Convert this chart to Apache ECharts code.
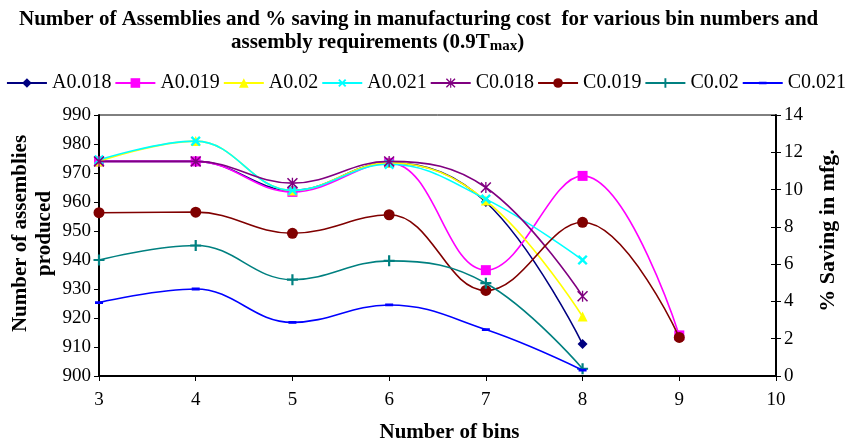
<!DOCTYPE html>
<html>
<head>
<meta charset="utf-8">
<script src="https://cdn.jsdelivr.net/npm/echarts@6/dist/echarts.min.js"></script>
<style>
html,body{margin:0;padding:0;background:#fff;}
#chart{width:852px;height:444px;}
</style>
</head>
<body>
<div id="chart"></div>
<script>
// ---- data ----
const bins = [3, 4, 5, 6, 7, 8, 9];
const seriesNames = ['A0.018', 'A0.019', 'A0.02', 'A0.021', 'C0.018', 'C0.019', 'C0.02', 'C0.021'];
const A0018 = [974, 974, 964, 973.5, 960, 911];
const A0019 = [974, 974, 963.5, 973.5, 936.5, 969, 914];
const A002  = [974, 981, 964, 973.5, 960.5, 920.5];
const A0021 = [974.5, 981, 964, 973, 961, 940];
const C0018 = [974, 974, 966.5, 974, 965, 927.5];
const C0019 = [956.3, 956.5, 949.2, 955.6, 929.5, 953, 913.3];
const C002  = [940, 945, 933.2, 939.7, 932, 902.5];
const C0021 = [925.3, 930, 918.5, 924.5, 916, 902];
const leftTicks = [900, 990, 10];
const rightTicks = [0, 14, 2];
const xTicks = [3, 10, 1];

const FONT = '"Liberation Serif", "Times New Roman", serif';
const X_SYM = 'path://M4,0H6V4H10V6H6V10H4V6H0V4H4Z';
const AST_SYM = 'path://M0,1L1,0L10,9L9,10ZM9,0L10,1L1,10L0,9ZM4.4,0L5.6,0L5.6,10L4.4,10Z';
// short horizontal dash inside a square bounding box (tiny corner dots keep the box square)
const DASH_SYM = 'path://M0,0H0.02V0.02H0ZM1,3.6H9V6.4H1ZM9.98,9.98H10V10H9.98Z';

const styles = [
  {color: '#000080', symbol: 'diamond', size: 10},
  {color: '#FF00FF', symbol: 'rect', size: 10},
  {color: '#FFFF00', symbol: 'triangle', size: 10},
  {color: '#00FFFF', symbol: X_SYM, size: 12, rotate: 45},
  {color: '#800080', symbol: AST_SYM, size: 11},
  {color: '#800000', symbol: 'circle', size: 11},
  {color: '#008080', symbol: X_SYM, size: 11},
  {color: '#0000FF', symbol: DASH_SYM, size: 10}
];
const values = [A0018, A0019, A002, A0021, C0018, C0019, C002, C0021];

const series = values.map((vals, i) => ({
  name: seriesNames[i],
  type: 'line',
  smooth: 0.4,
  data: vals.map((v, j) => [bins[j], v]),
  symbol: styles[i].symbol,
  symbolSize: styles[i].size,
  symbolRotate: styles[i].rotate || 0,
  lineStyle: {color: styles[i].color, width: 1.6},
  itemStyle: {color: styles[i].color, borderColor: styles[i].color, borderWidth: 0, opacity: 1},
  showAllSymbol: true,
  emphasis: {disabled: true},
  z: 2 + i
}));

const chart = echarts.init(document.getElementById('chart'), null, {renderer: 'canvas'});
chart.setOption({
  backgroundColor: '#ffffff',
  animation: false,
  textStyle: {fontFamily: FONT},
  title: [
    {
      text: 'Number of Assemblies and % saving in manufacturing cost  for various bin numbers and',
      left: 14, top: 4,
      textStyle: {fontFamily: FONT, fontWeight: 'bold', fontSize: 21, color: '#000'}
    },
    {
      text: '{a|assembly requirements (0.9T}{s|max}{a|)}',
      left: 226, top: 26,
      textStyle: {
        rich: {
          a: {fontFamily: FONT, fontWeight: 'bold', fontSize: 21, color: '#000'},
          s: {fontFamily: FONT, fontWeight: 'bold', fontSize: 15, color: '#000', padding: [8, 0, 0, 0]}
        }
      }
    }
  ],
  legend: {
    top: 68, left: 'center',
    itemWidth: 40, itemHeight: 12, itemGap: 3,
    textStyle: {fontFamily: FONT, fontSize: 20, color: '#000'},
    data: seriesNames
  },
  grid: {
    left: 99, right: 76, top: 115, bottom: 68,
    outerBoundsMode: 'none', containLabel: false,
    show: true, borderColor: '#000', borderWidth: 1, backgroundColor: 'transparent'
  },
  xAxis: {
    type: 'value', min: xTicks[0], max: xTicks[1], interval: xTicks[2],
    name: 'Number of bins', nameLocation: 'middle', nameGap: 46,
    nameTextStyle: {fontFamily: FONT, fontWeight: 'bold', fontSize: 21, color: '#000', padding: [0, 0, 0, 24]},
    axisLine: {lineStyle: {color: '#000', width: 2}},
    axisTick: {show: true, inside: false, length: 5, lineStyle: {color: '#000'}},
    axisLabel: {fontFamily: FONT, fontSize: 19, color: '#000', margin: 15},
    splitLine: {show: false}
  },
  yAxis: [
    {
      type: 'value', min: leftTicks[0], max: leftTicks[1], interval: leftTicks[2],
      position: 'left',
      name: 'Number of assemblies\nproduced', nameLocation: 'middle', nameGap: 42,
      nameMoveOverlap: false,
      nameTextStyle: {fontFamily: FONT, fontWeight: 'bold', fontSize: 21, color: '#000', lineHeight: 24, padding: [0, 0, 0, 24]},
      axisLine: {show: true, lineStyle: {color: '#000', width: 2}},
      axisTick: {show: true, inside: false, length: 5, lineStyle: {color: '#000'}},
      axisLabel: {fontFamily: FONT, fontSize: 19, color: '#000', margin: 8},
      splitLine: {show: false}
    },
    {
      type: 'value', min: rightTicks[0], max: rightTicks[1], interval: rightTicks[2],
      position: 'right',
      name: '% Saving in mfg.', nameLocation: 'middle', nameGap: 41, nameRotate: 90,
      nameTextStyle: {fontFamily: FONT, fontWeight: 'bold', fontSize: 22, color: '#000', padding: [0, 0, 0, 30]},
      axisLine: {show: true, lineStyle: {color: '#000', width: 2}},
      axisTick: {show: true, inside: false, length: 5, lineStyle: {color: '#000'}},
      axisLabel: {fontFamily: FONT, fontSize: 19, color: '#000', margin: 8},
      splitLine: {show: false}
    },
    {
      type: 'value', min: rightTicks[0], max: rightTicks[1], interval: rightTicks[2],
      position: 'right',
      axisLine: {show: false},
      axisTick: {show: true, inside: true, length: 5, lineStyle: {color: '#000'}},
      axisLabel: {show: false},
      splitLine: {show: false}
    }
  ],
  series: series
});
</script>
</body>
</html>
